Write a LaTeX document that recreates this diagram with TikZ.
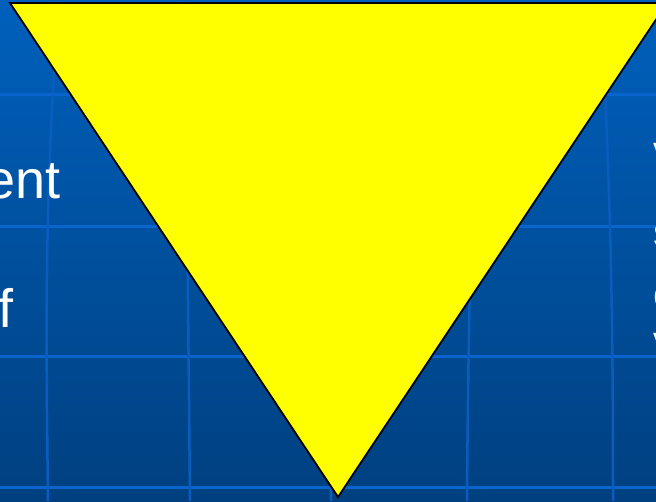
\documentclass[tikz,border=0pt]{standalone}
\usepackage{fontspec}
\setmainfont{Liberation Sans}
\begin{document}
\begin{tikzpicture}[x=1pt,y=-1pt,
  gridline/.style={draw={rgb,255:red,10;green,100;blue,205}, line width=3pt},
  meridian/.style={draw={rgb,255:red,10;green,92;blue,190}, line width=2.5pt},
  bigtext/.style={text=white, inner sep=0pt, font=\fontsize{54}{60}\selectfont},
  sidetext/.style={text=white, inner sep=0pt, font=\fontsize{42}{48}\selectfont},
  tri/.style={fill={rgb,255:red,255;green,255;blue,0}, draw=black, line width=1.8pt, line join=miter}]
\useasboundingbox (0,0) rectangle (656,501);
\clip (0,0) rectangle (656,501);
\shade[top color={rgb,255:red,0;green,96;blue,188}, bottom color={rgb,255:red,0;green,64;blue,128}] (0,0) rectangle (656,501);
% grid
\foreach \yy in {94,226,356,487} \draw[gridline] (0,\yy) -- (656,\yy);
\draw[meridian] (60,0) .. controls (44,170) and (46,340) .. (48,501);
\draw[meridian] (185,0) -- (190,501);
\draw[meridian] (330,0) -- (331,501);
\draw[meridian] (478,0) .. controls (471,200) and (468,350) .. (467,501);
\draw[meridian] (600,0) .. controls (612,200) and (613,350) .. (613,501);
% texts
\node[bigtext, anchor=base east] (t1) at (61,198) {ent};
\node[bigtext, anchor=base east] (t2) at (14,327) {f};
\node[sidetext, anchor=base west] (r1) at (653,165) {v};
\node[sidetext, anchor=base west] (r2) at (653,246) {s};
\node[sidetext, anchor=base west] (r3) at (653,308) {c};
\node[sidetext, anchor=base west] (r4) at (653,355) {v};
% triangle
\draw[tri] (10,3) -- (667,3) -- (338,497) -- cycle;
\end{tikzpicture}
\end{document}
